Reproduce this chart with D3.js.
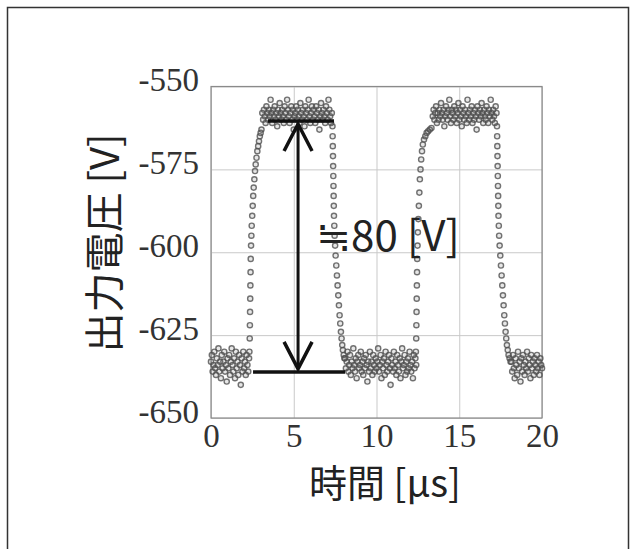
<!DOCTYPE html>
<html>
<head>
<meta charset="utf-8">
<script src="https://cdn.jsdelivr.net/npm/d3@7"></script>
<style>
  body { margin: 0; background: #fff; }
  svg { display: block; }
</style>
</head>
<body>
<svg width="636" height="549"></svg>
<script>
// axis ticks
var xTicks = [0, 5, 10, 15, 20];
var yTicks = [-550, -575, -600, -625, -650];

// sampling step of the flat parts [us]
var step = 0.05;

// flat parts: start time [us] and output voltage [V]
var low1Start = 0.00;
var low1 = [-633,-631,-636,-634,-630,-635,-637,-632,-634,-629,
            -636,-633,-638,-631,-635,-633,-630,-636,-634,-639,
            -632,-635,-631,-637,-633,-629,-634,-636,-632,-638,
            -630,-635,-633,-637,-631,-634,-640,-632,-636,-630,
            -635,-633,-637,-631,-634,-636,-632];

var high1Start = 3.10;
var high1 = [-558,-560,-557,-559,-561,-556,-558,-560,-557,-559,
             -554,-558,-561,-557,-559,-556,-560,-558,-562,-557,
             -559,-555,-558,-560,-557,-559,-561,-556,-558,-560,
             -554,-557,-559,-561,-558,-556,-560,-557,-563,-559,
             -558,-556,-560,-557,-559,-561,-555,-558,-560,-557,
             -559,-562,-556,-558,-560,-557,-554,-559,-561,-558,
             -556,-560,-557,-559,-561,-556,-558,-560,-557,-563,
             -559,-555,-558,-560,-557,-559,-561,-556,-558,-560,
             -554,-557,-559,-561,-558];

var low2Start = 8.10;
var low2 = [-632,-635,-633,-630,-636,-634,-631,-637,-633,-635,
            -629,-634,-636,-632,-638,-633,-631,-635,-634,-630,
            -636,-633,-637,-632,-635,-631,-634,-639,-633,-636,
            -630,-635,-633,-637,-631,-634,-636,-632,-635,-633,
            -629,-636,-634,-631,-638,-633,-635,-632,-637,-630,
            -634,-636,-633,-631,-635,-640,-632,-634,-636,-630,
            -635,-633,-637,-631,-634,-636,-632,-638,-633,-629,
            -635,-634,-631,-637,-633,-636,-632,-635,-630,-634,
            -636,-633,-638,-631,-635,-632,-634];

var high2Start = 13.40;
var high2 = [-559,-557,-560,-558,-556,-561,-558,-560,-557,-559,
             -555,-558,-560,-557,-562,-559,-556,-558,-560,-557,
             -554,-559,-561,-557,-558,-560,-556,-559,-557,-561,
             -558,-555,-560,-557,-559,-562,-556,-558,-560,-557,
             -559,-561,-554,-558,-560,-557,-559,-556,-561,-558,
             -560,-557,-559,-563,-556,-558,-560,-557,-559,-555,
             -558,-561,-557,-559,-560,-556,-558,-561,-557,-559,
             -554,-558,-560,-557,-559,-561,-556,-558];

var low3Start = 18.15;
var low3 = [-633,-636,-631,-635,-638,-632,-634,-637,-630,-635,
            -633,-639,-632,-636,-631,-634,-637,-633,-635,-630,
            -636,-632,-634,-638,-631,-635,-633,-637,-632,-634,
            -636,-631,-635,-633,-637,-632,-634,-635];

// edges: [time us, voltage V]
var rise1 = [[2.32,-630],[2.34,-626],[2.35,-622],[2.36,-618],[2.37,-614],[2.38,-610],
             [2.39,-606],[2.40,-602],[2.42,-598],[2.44,-595],[2.46,-592],[2.49,-589],
             [2.52,-586],[2.55,-583],[2.58,-580.5],[2.62,-578],[2.66,-575.5],[2.70,-573.5],
             [2.75,-571.5],[2.80,-569.5],[2.85,-568],[2.90,-566.5],[2.95,-565],[3.00,-564],
             [3.05,-563]];

var fall1 = [[7.34,-562],[7.35,-565],[7.36,-568],[7.37,-571],[7.38,-574],[7.39,-577],
             [7.40,-580],[7.41,-583],[7.42,-586],[7.43,-589],[7.45,-592],[7.47,-595],
             [7.50,-598],[7.53,-601],[7.57,-604],[7.61,-607],[7.65,-610],[7.69,-613],
             [7.73,-616],[7.77,-619],[7.81,-621.5],[7.85,-624],[7.89,-626],[7.93,-628],
             [7.97,-629.5],[8.02,-631],[8.06,-632]];

var rise2 = [[12.38,-630],[12.40,-626],[12.41,-622],[12.42,-618],[12.43,-614],[12.44,-610],
             [12.45,-606],[12.46,-602],[12.48,-598],[12.50,-594],[12.53,-590],[12.56,-586],
             [12.59,-582],[12.62,-578],[12.66,-575],[12.70,-572],[12.75,-569.5],[12.80,-567.5],
             [12.87,-566],[12.95,-565],[13.03,-564],[13.12,-563.5],[13.22,-563],[13.32,-562.5]];

var fall2 = [[17.28,-562],[17.29,-565],[17.30,-568],[17.31,-571],[17.32,-574],[17.33,-577],
             [17.34,-580],[17.35,-583],[17.36,-586],[17.37,-589],[17.39,-592],[17.41,-595],
             [17.44,-598],[17.48,-601],[17.52,-604],[17.56,-607],[17.60,-610],[17.64,-613],
             [17.68,-616],[17.72,-619],[17.76,-621.5],[17.80,-624],[17.84,-626],[17.88,-628],
             [17.93,-629.5],[17.98,-631],[18.04,-632],[18.10,-633]];

// annotation (data units)
var highLevel = -560.4, lowLevel = -636.1;
var highLine = [3.44, 7.43];
var lowLine = [2.54, 8.10];
var arrowT = 5.26;
var labelPos = [6.35, -599.5];

var svg = d3.select("svg");

// soft look of the scanned figure
svg.append("defs").append("filter")
    .attr("id", "soft")
    .append("feGaussianBlur")
    .attr("stdDeviation", 0.45);

// outer frame
svg.append("path")
    .attr("d", "M7.5,560 V7.5 H628.5 V560")
    .attr("fill", "none")
    .attr("stroke", "#333")
    .attr("stroke-width", 1.5);

var x = d3.scaleLinear().domain([0, 20]).range([211, 542]);
var y = d3.scaleLinear().domain([-650, -550]).range([418, 86.5]);

// grid
svg.append("g")
    .attr("transform", "translate(0,418)")
    .call(d3.axisBottom(x).tickValues(xTicks).tickSize(-(418 - 86.5)).tickFormat(""))
    .call(function(g) {
        g.select(".domain").remove();
        g.selectAll("line").attr("stroke", "#c9c9c9");
    });

svg.append("g")
    .attr("transform", "translate(211,0)")
    .call(d3.axisLeft(y).tickValues(yTicks).tickSize(-(542 - 211)).tickFormat(""))
    .call(function(g) {
        g.select(".domain").remove();
        g.selectAll("line").attr("stroke", "#c9c9c9");
    });

// plot border
svg.append("rect")
    .attr("x", 211).attr("y", 86.5)
    .attr("width", 542 - 211).attr("height", 418 - 86.5)
    .attr("fill", "none")
    .attr("stroke", "#8a8a8a")
    .attr("stroke-width", 1.2);

// tick labels (plain hyphen, like the original)
svg.append("g")
    .attr("transform", "translate(0,418)")
    .call(d3.axisBottom(x).tickValues(xTicks).tickSize(0).tickPadding(29)
        .tickFormat(function(d) { return String(d); }))
    .call(function(g) {
        g.select(".domain").remove();
        g.selectAll("text")
            .attr("font-family", "'Liberation Serif', serif")
            .attr("font-size", 33)
            .attr("fill", "#333")
            .attr("dy", 0);
    });

svg.append("g")
    .attr("transform", "translate(211,0)")
    .call(d3.axisLeft(y).tickValues(yTicks).tickSize(0).tickPadding(12)
        .tickFormat(function(d) { return String(d); }))
    .call(function(g) {
        g.select(".domain").remove();
        g.selectAll("text")
            .attr("font-family", "'Liberation Serif', serif")
            .attr("font-size", 33)
            .attr("fill", "#333")
            .attr("dy", 4);
    });

// collect the points
var pts = [];
function addFlat(t0, vals) {
    vals.forEach(function(v, i) { pts.push([t0 + i * step, v]); });
}
addFlat(low1Start, low1);
rise1.forEach(function(p) { pts.push(p); });
addFlat(high1Start, high1);
fall1.forEach(function(p) { pts.push(p); });
addFlat(low2Start, low2);
rise2.forEach(function(p) { pts.push(p); });
addFlat(high2Start, high2);
fall2.forEach(function(p) { pts.push(p); });
addFlat(low3Start, low3);

svg.append("g")
    .attr("filter", "url(#soft)")
    .selectAll(".pt")
    .data(pts)
    .enter().append("circle")
    .attr("class", "pt")
    .attr("cx", function(d) { return x(d[0]); })
    .attr("cy", function(d) { return y(d[1]); })
    .attr("r", 2.6)
    .attr("fill", "#555")
    .attr("fill-opacity", 0.14)
    .attr("stroke", "#505050")
    .attr("stroke-opacity", 0.8)
    .attr("stroke-width", 1.4);

// annotation
var ann = svg.append("g")
    .attr("stroke", "#111")
    .attr("stroke-width", 3.5)
    .attr("fill", "none");

ann.append("line")
    .attr("x1", x(highLine[0])).attr("x2", x(highLine[1]))
    .attr("y1", y(highLevel)).attr("y2", y(highLevel));
ann.append("line")
    .attr("x1", x(lowLine[0])).attr("x2", x(lowLine[1]))
    .attr("y1", y(lowLevel)).attr("y2", y(lowLevel));

var ax = x(arrowT), yTop = y(highLevel) + 3, yBot = y(lowLevel) - 3;
ann.append("line")
    .attr("x1", ax).attr("x2", ax)
    .attr("y1", yTop).attr("y2", yBot)
    .attr("stroke-width", 3);
ann.append("path")
    .attr("d", "M" + (ax - 14) + "," + (yTop + 27) + " L" + ax + "," + yTop + " L" + (ax + 14) + "," + (yTop + 27))
    .attr("stroke-width", 3.5);
ann.append("path")
    .attr("d", "M" + (ax - 14) + "," + (yBot - 27) + " L" + ax + "," + yBot + " L" + (ax + 14) + "," + (yBot - 27))
    .attr("stroke-width", 3.5);

svg.append("text")
    .attr("x", x(labelPos[0]))
    .attr("y", y(labelPos[1]))
    .attr("font-family", "'Noto Sans CJK JP', 'Noto Sans', sans-serif")
    .attr("font-size", 42)
    .attr("fill", "#222")
    .text("≒80 [V]");

// axis titles
svg.append("text")
    .attr("x", 385)
    .attr("y", 497)
    .attr("text-anchor", "middle")
    .attr("font-family", "'Noto Sans CJK JP', sans-serif")
    .attr("font-size", 38)
    .attr("fill", "#222")
    .text("時間 [μs]");

svg.append("text")
    .attr("transform", "translate(119,243) rotate(-90)")
    .attr("text-anchor", "middle")
    .attr("font-family", "'Noto Sans CJK JP', sans-serif")
    .attr("font-size", 40)
    .attr("fill", "#222")
    .text("出力電圧 [V]");
</script>
</body>
</html>
